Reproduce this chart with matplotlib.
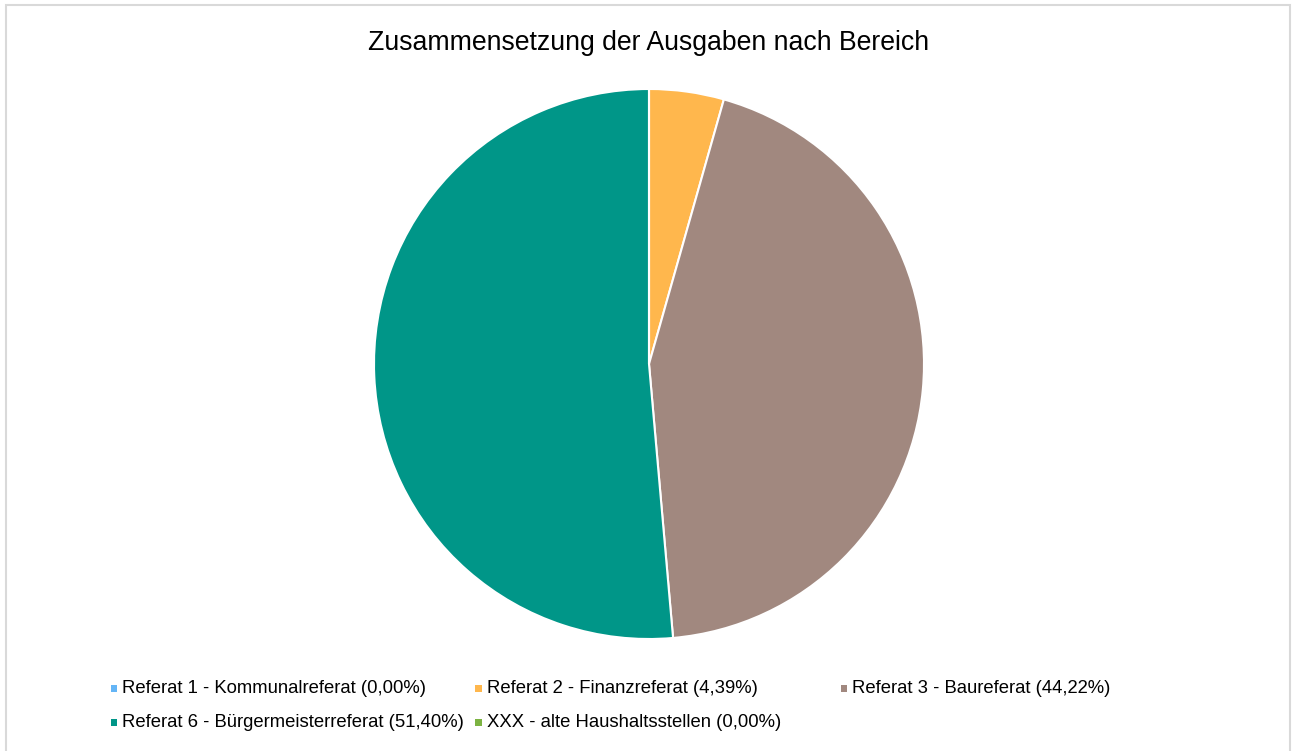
import matplotlib
matplotlib.use("Agg")
import matplotlib.pyplot as plt
from matplotlib.patches import Rectangle

plt.rcParams['font.family'] = ['Liberation Sans', 'DejaVu Sans']

title = "Zusammensetzung der Ausgaben nach Bereich"
categories = ["Referat 1 - Kommunalreferat", "Referat 2 - Finanzreferat",
              "Referat 3 - Baureferat", "Referat 6 - Bürgermeisterreferat",
              "XXX - alte Haushaltsstellen"]
shares = [0.00, 4.39, 44.22, 51.40, 0.00]
pct_labels = ["0,00%", "4,39%", "44,22%", "51,40%", "0,00%"]
colors = ["#64B5F6", "#FFB74D", "#A1887F", "#009688", "#7CB342"]

W, H = 1292, 751
fig = plt.figure(figsize=(W / 100, H / 100), dpi=100)
fig.patch.set_facecolor("white")

# chart frame
fig.add_artist(Rectangle((5.5 / W, -0.01), (1290 - 5.5) / W, (H - 4.5) / H + 0.01,
                         transform=fig.transFigure, fill=False,
                         edgecolor="#D9D9D9", linewidth=1.5))

cx, cy, r = 649, 364, 275
ax = fig.add_axes([(cx - r) / W, (H - cy - r) / H, 2 * r / W, 2 * r / H])
ax.pie(shares, colors=colors, startangle=90, counterclock=False,
       wedgeprops=dict(edgecolor="white", linewidth=1.5))
ax.set_xlim(-1, 1)
ax.set_ylim(-1, 1)
ax.set_aspect("equal")
ax.axis("off")

fig.text(649 / W, 1 - 43 / H, title, ha="center", va="center", fontsize=19.2, color="#000000")

# legend laid out on an equal-width grid (3 columns)
labels = [f"{c} ({p})" for c, p in zip(categories, pct_labels)]
order = [0, 1, 2, 3, 4]
col_x = [114, 479, 844]
row_y = [688, 722]
msize = 7
for k, i in enumerate(order):
    x = col_x[k % 3]
    y = row_y[k // 3]
    fig.add_artist(Rectangle(((x - msize / 2) / W, 1 - (y + msize / 2) / H),
                             msize / W, msize / H, transform=fig.transFigure,
                             facecolor=colors[i], edgecolor="none"))
    fig.text((x + 8) / W, 1 - (y + 0.5) / H, labels[i], ha="left", va="center",
             fontsize=13.3, color="#000000")

fig.savefig("out.png", dpi=100)
